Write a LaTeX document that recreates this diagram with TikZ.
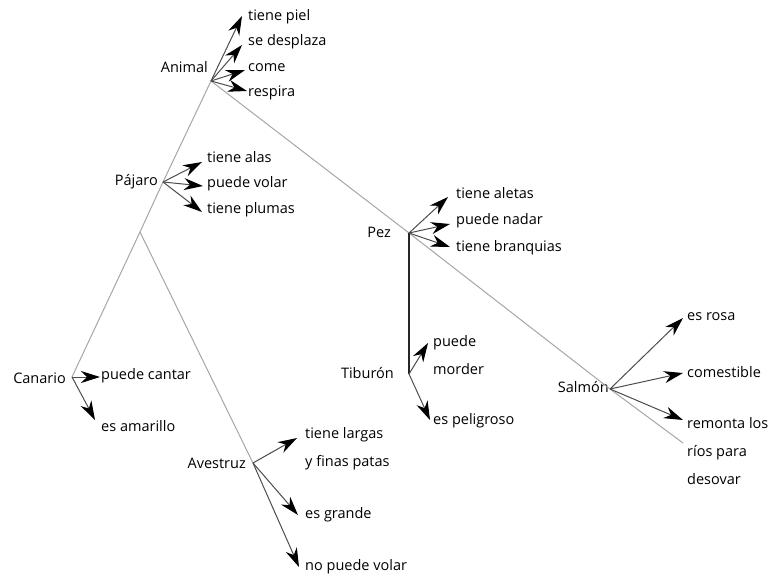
\documentclass[tikz,border=0pt]{standalone}
\usepackage{fontspec}
\setmainfont{Open Sans}
\usetikzlibrary{arrows.meta}
\begin{document}
\begin{tikzpicture}[x=1pt,y=-1pt,
  lbl/.style={inner sep=0pt,anchor=west,font=\fontsize{14.5}{28}\selectfont,align=left},
  cls/.style={inner sep=0pt,anchor=east,font=\fontsize{14.5}{28}\selectfont},
  tree/.style={draw=gray!70,line width=1pt},
  trunk/.style={draw=black!85,line width=1.6pt},
  prop/.style={draw=gray!60!black,line width=1pt,-{Stealth[black,length=19pt,width=12pt,inset=6pt]}}]
\useasboundingbox (0,0) rectangle (778,579);
% junctions
\coordinate (jA) at (211,81);
\coordinate (jP) at (163,182);
\coordinate (jB) at (140,232);
\coordinate (jC) at (72,377);
\coordinate (jV) at (253,463);
\coordinate (jZ) at (409,233);
\coordinate (jT) at (409,374);
\coordinate (jS) at (610,389);
\coordinate (eS) at (683,443);
% class labels
\node[cls] (animal) at (208,67) {Animal};
\node[cls] (pajaro) at (158,182) {Pájaro};
\node[cls] (pez) at (391,232) {Pez};
\node[cls] (canario) at (66,378) {Canario};
\node[cls] (tiburon) at (394,373) {Tiburón};
\node[cls] (salmon) at (609,387) {Salmón};
\node[cls] (avestruz) at (246,463) {Avestruz};
% tree lines
\draw[tree] (jA) -- (jP) -- (jB) -- (jC);
\draw[tree] (jB) -- (jV);
\draw[tree] (jA) -- (jZ) -- (jS) -- (eS);
\draw[trunk] (jZ) -- (jT);
% property labels
\node[lbl] (piel) at (248,17) {tiene piel};
\node[lbl] (despl) at (248,42) {se desplaza};
\node[lbl] (come) at (248,68) {come};
\node[lbl] (resp) at (248,93) {respira};
\node[lbl] (alas) at (207,157) {tiene alas};
\node[lbl] (volar) at (207,184) {puede volar};
\node[lbl] (plumas) at (207,210) {tiene plumas};
\node[lbl] (aletas) at (456,193) {tiene aletas};
\node[lbl] (nadar) at (456,221) {puede nadar};
\node[lbl] (branq) at (456,248) {tiene branquias};
\node[lbl] (cantar) at (101,376) {puede cantar};
\node[lbl] (amar) at (101,426) {es amarillo};
\node[lbl] (morder) at (433,355) {puede\\morder};
\node[lbl] (pelig) at (433,421) {es peligroso};
\node[lbl] (rosa) at (687,317) {es rosa};
\node[lbl] (comest) at (687,372) {comestible};
\node[lbl] (remonta) at (687,451) {remonta los\\ríos para\\desovar};
\node[lbl] (largas) at (305,449) {tiene largas\\y finas patas};
\node[lbl] (grande) at (305,515) {es grande};
\node[lbl] (novolar) at (305,567) {no puede volar};
% arrow tips
\coordinate (tPiel) at (242,16);
\coordinate (tDespl) at (242,45);
\coordinate (tCome) at (245,70);
\coordinate (tResp) at (247,91);
\coordinate (tAlas) at (202,162);
\coordinate (tVolar) at (203,186);
\coordinate (tPlumas) at (202,212);
\coordinate (tAletas) at (448,197);
\coordinate (tNadar) at (450,224);
\coordinate (tBranq) at (450,247);
\coordinate (tCantar) at (100,377);
\coordinate (tAmar) at (95,420);
\coordinate (tMorder) at (428,343);
\coordinate (tPelig) at (430,420);
\coordinate (tRosa) at (683,318);
\coordinate (tComest) at (683,373);
\coordinate (tRemonta) at (683,420);
\coordinate (tLargas) at (297,438);
\coordinate (tGrande) at (298,515);
\coordinate (tNovolar) at (299,567);
% arrows
\foreach \j/\t in {jA/tPiel,jA/tDespl,jA/tCome,jA/tResp,
  jP/tAlas,jP/tVolar,jP/tPlumas,
  jZ/tAletas,jZ/tNadar,jZ/tBranq,
  jC/tCantar,jC/tAmar,
  jT/tMorder,jT/tPelig,
  jS/tRosa,jS/tComest,jS/tRemonta,
  jV/tLargas,jV/tGrande,jV/tNovolar}
  \draw[prop] (\j) -- (\t);
\end{tikzpicture}
\end{document}
